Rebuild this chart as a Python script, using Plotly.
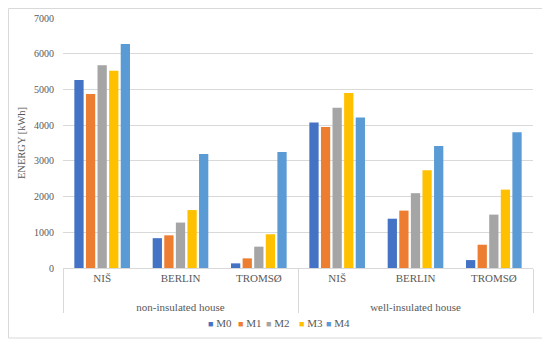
import plotly.graph_objects as go

group_names = ["non-insulated house", "well-insulated house"]
city_names = ["NIŠ", "BERLIN", "TROMSØ"]
series_names = ["M0", "M1", "M2", "M3", "M4"]
M0 = [5265, 835, 130, 4075, 1380, 222]
M1 = [4870, 915, 270, 3945, 1607, 652]
M2 = [5680, 1272, 598, 4485, 2095, 1495]
M3 = [5520, 1622, 945, 4900, 2740, 2195]
M4 = [6275, 3195, 3250, 4215, 3418, 3800]
colors = ["#4472C4", "#ED7D31", "#A5A5A5", "#FFC000", "#5B9BD5"]
y_ticks = [0, 1000, 2000, 3000, 4000, 5000, 6000, 7000]

# outer level label shown one line lower (leading line break) like the original
groups = ["<br>" + g for g in group_names for _ in city_names]
cities = city_names * len(group_names)

SERIF = "Liberation Serif"
TXT = "#595959"
fig = go.Figure()
for name, vals, c in zip(series_names, [M0, M1, M2, M3, M4], colors):
    fig.add_trace(go.Bar(x=[groups, cities], y=vals, name=name, marker_color=c,
                         marker_line_width=0, showlegend=False))

# legend drawn as text entries (square swatch + series name)
legend_x = [0.305, 0.368, 0.428, 0.498, 0.556]
annotations = []
for name, c, lx in zip(series_names, colors, legend_x):
    annotations.append(dict(
        xref="paper", yref="paper", x=lx, y=-0.22, xanchor="left", yanchor="middle",
        showarrow=False,
        text=f"<span style='color:{c};font-size:9px'>■</span> {name}",
        font=dict(family=SERIF, size=11, color=TXT)))

fig.update_layout(
    width=542, height=338,
    margin=dict(l=55, r=17, t=10, b=78),
    paper_bgcolor="white", plot_bgcolor="white",
    barmode="group", bargap=0.26, bargroupgap=0.2,
    font=dict(family=SERIF, size=10, color=TXT),
    annotations=annotations,
    shapes=[dict(type="rect", xref="paper", yref="paper", x0=-0.116, x1=1.0234,
                 y0=-0.28, y1=1.038, line=dict(color="#d9d9d9", width=1))],
)
fig.update_yaxes(range=[0, 7000], tickvals=y_ticks, showgrid=True, gridcolor="#d9d9d9",
                 zeroline=False, showline=False, ticks="", automargin=False,
                 ticklabelstandoff=8,
                 tickfont=dict(family=SERIF, size=10, color=TXT),
                 title=dict(text="ENERGY [kWh]", font=dict(family=SERIF, size=10.5, color=TXT),
                            standoff=6))
fig.update_xaxes(type="multicategory", showline=True, linecolor="#d9d9d9", automargin=False,
                 showdividers=True, dividercolor="#d9d9d9", dividerwidth=1,
                 tickfont=dict(family=SERIF, size=11, color=TXT))
fig.write_html("out.html")
